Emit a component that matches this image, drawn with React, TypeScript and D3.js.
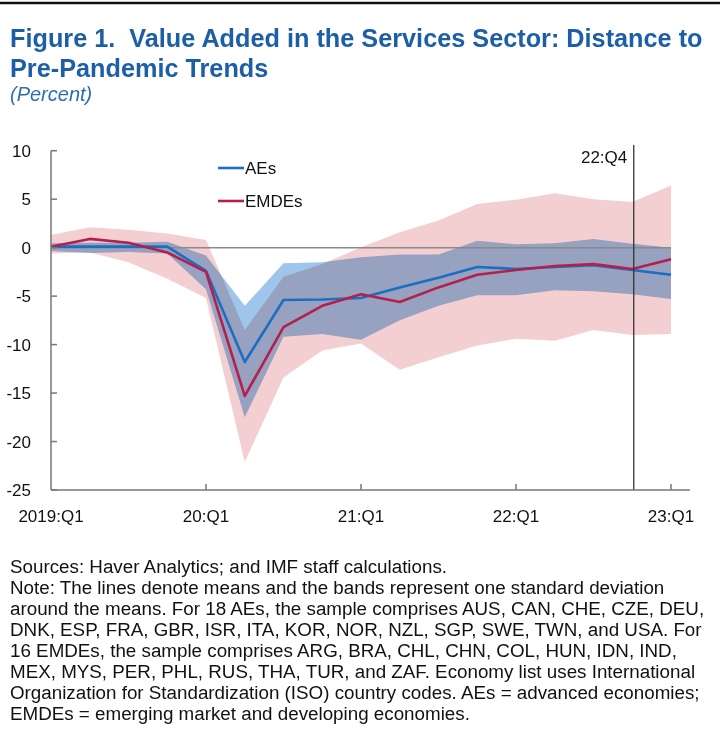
import * as d3 from 'd3'
import React from 'react'

// quarters 2019:Q1 .. 2023:Q1
const quarters = d3.range(17)
const xTickLabels = ['2019:Q1', '20:Q1', '21:Q1', '22:Q1', '23:Q1']
const xTickIdx = [0, 4, 8, 12, 16]
const yTicks = [10, 5, 0, -5, -10, -15, -20, -25]

// AEs: mean and one standard deviation band
const aeMean = [0.1, 0.1, 0.1, 0.1, -2.4, -11.8, -5.4, -5.35, -5.2, -4.1, -3.1, -2.0, -2.2, -2.0, -1.8, -2.3, -2.8]
const aeUpper = [0.45, 0.5, 0.5, 0.6, -0.8, -6.0, -1.6, -1.5, -1.0, -0.7, -0.7, 0.7, 0.35, 0.45, 0.9, 0.4, 0.0]
const aeLower = [-0.35, -0.55, -0.45, -0.6, -4.3, -17.5, -9.2, -8.9, -9.5, -7.5, -6.0, -4.9, -4.9, -4.4, -4.5, -4.8, -5.3]

// EMDEs: mean and one standard deviation band
const emMean = [0.1, 0.9, 0.5, -0.5, -2.5, -15.3, -8.2, -6.0, -4.8, -5.6, -4.1, -2.8, -2.3, -1.9, -1.7, -2.2, -1.2]
const emUpper = [1.3, 2.1, 1.85, 1.45, 0.8, -8.5, -3.0, -1.7, 0.05, 1.6, 2.8, 4.5, 4.95, 5.6, 5.0, 4.7, 6.4]
const emLower = [-0.6, -0.5, -1.5, -3.2, -5.2, -22.1, -13.4, -10.6, -9.9, -12.6, -11.3, -10.1, -9.4, -9.6, -8.5, -9.0, -8.9]

const markerIdx = 15 // 22:Q4
const markerLabel = '22:Q4'

const titleLines = ['Figure 1.  Value Added in the Services Sector: Distance to', 'Pre-Pandemic Trends']
const subtitle = '(Percent)'
const noteLines = [
  'Sources: Haver Analytics; and IMF staff calculations.',
  'Note: The lines denote means and the bands represent one standard deviation',
  'around the means. For 18 AEs, the sample comprises AUS, CAN, CHE, CZE, DEU,',
  'DNK, ESP, FRA, GBR, ISR, ITA, KOR, NOR, NZL, SGP, SWE, TWN, and USA. For',
  '16 EMDEs, the sample comprises ARG, BRA, CHL, CHN, COL, HUN, IDN, IND,',
  'MEX, MYS, PER, PHL, RUS, THA, TUR, and ZAF. Economy list uses International',
  'Organization for Standardization (ISO) country codes. AEs = advanced economies;',
  'EMDEs = emerging market and developing economies.'
]

const W = 720
const H = 733
const font = '"Liberation Sans", Arial, sans-serif'
const blue = '#1b6ec2'
const red = '#b51f4e'

const App = () => {
  const x = d3.scaleLinear().domain([0, 16]).range([51, 671])
  const y = d3.scaleLinear().domain([-25, 10]).range([490, 150.7])

  const band = (upper: number[], lower: number[]) =>
    d3
      .area<number>()
      .x((i) => x(i))
      .y0((i) => y(lower[i]))
      .y1((i) => y(upper[i]))(quarters) || ''
  const line = (vals: number[]) =>
    d3
      .line<number>()
      .x((i) => x(i))
      .y((i) => y(vals[i]))(quarters) || ''

  return (
    <svg width={W} height={H} style={{ display: 'block', position: 'absolute', left: 0, top: 0, background: '#fff' }}>
      <rect x={0} y={0} width={W} height={H} fill='#fff' />
      <line x1={0} x2={W} y1={3} y2={3} stroke='#111' strokeWidth={2.5} />

      {/* title, slightly condensed like the narrow original */}
      <g transform='translate(10,0) scale(0.972,1)'>
        {titleLines.map((t, i) => (
          <text
            key={t}
            x={0}
            y={47 + i * 30}
            fontFamily={font}
            fontWeight='bold'
            fontSize={26}
            fill='#1c5ea8'
            style={{ whiteSpace: 'pre' }}
          >
            {t}
          </text>
        ))}
      </g>
      <text x={10} y={101} fontFamily={font} fontStyle='italic' fontSize={20} fill='#2f6db3'>
        {subtitle}
      </text>

      {/* bands */}
      <path d={band(emUpper, emLower)} fill='#f3cfd1' />
      <path d={band(aeUpper, aeLower)} fill='#9fc6ea' style={{ mixBlendMode: 'multiply' }} />

      {/* zero line */}
      <line x1={x(0)} x2={x(16)} y1={y(0)} y2={y(0)} stroke='#8a8a8a' strokeWidth={1.5} />

      {/* means */}
      <path d={line(aeMean)} fill='none' stroke={blue} strokeWidth={2.6} strokeLinejoin='round' />
      <path d={line(emMean)} fill='none' stroke={red} strokeWidth={2.6} strokeLinejoin='round' />

      {/* 22:Q4 marker */}
      <line x1={x(markerIdx) + 1.5} x2={x(markerIdx) + 1.5} y1={145} y2={y(-25)} stroke='#333' strokeWidth={1.3} />
      <text x={x(markerIdx) - 5} y={163} textAnchor='end' fontFamily={font} fontSize={17} fill='#111'>
        {markerLabel}
      </text>

      {/* y axis */}
      <line x1={51} x2={51} y1={y(10)} y2={y(-25)} stroke='#777' strokeWidth={1.5} />
      {yTicks.map((t) => (
        <g key={t}>
          <line x1={51} x2={57} y1={y(t)} y2={y(t)} stroke='#777' strokeWidth={1.5} />
          <text x={31} y={y(t) + 6} textAnchor='end' fontFamily={font} fontSize={17} fill='#111'>
            {t}
          </text>
        </g>
      ))}

      {/* x axis */}
      <line x1={51} x2={690} y1={y(-25)} y2={y(-25)} stroke='#777' strokeWidth={1.5} />
      {xTickIdx.map((t, i) => (
        <g key={t}>
          {i > 0 && <line x1={x(t)} x2={x(t)} y1={y(-25)} y2={y(-25) - 6} stroke='#777' strokeWidth={1.5} />}
          <text x={x(t)} y={522} textAnchor='middle' fontFamily={font} fontSize={17} fill='#111'>
            {xTickLabels[i]}
          </text>
        </g>
      ))}

      {/* legend */}
      {[
        { label: 'AEs', color: blue, ly: 168 },
        { label: 'EMDEs', color: red, ly: 201 }
      ].map((d) => (
        <g key={d.label}>
          <line x1={218} x2={244} y1={d.ly} y2={d.ly} stroke={d.color} strokeWidth={2.6} />
          <text x={245} y={d.ly + 6} fontFamily={font} fontSize={17} fill='#111'>
            {d.label}
          </text>
        </g>
      ))}

      {/* notes */}
      {noteLines.map((t, i) => (
        <text key={i} x={10} y={573 + i * 21} fontFamily={font} fontSize={18.8} fill='#111'>
          {t}
        </text>
      ))}
    </svg>
  )
}

export default App
